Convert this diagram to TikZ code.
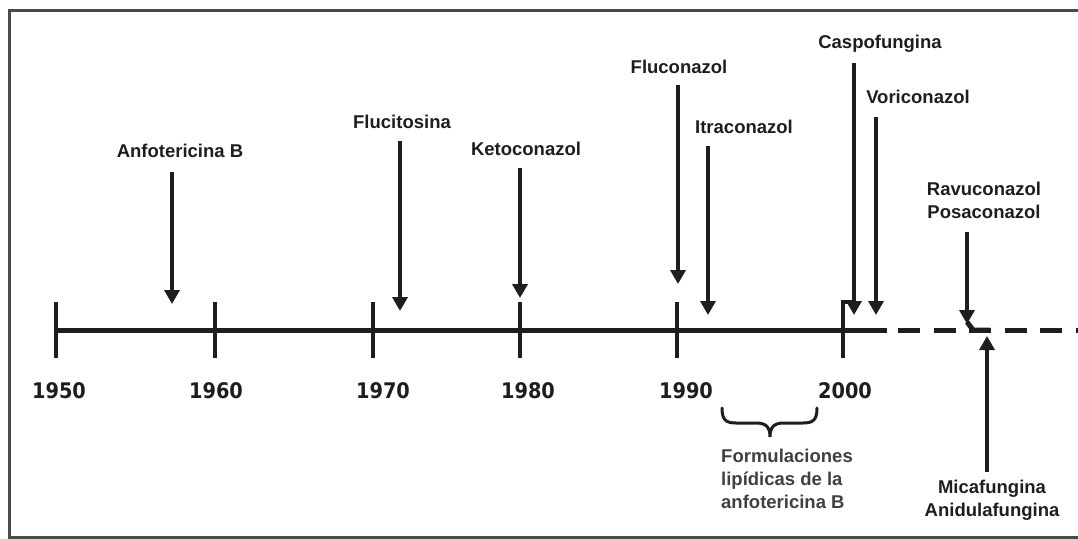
\documentclass[tikz,border=0pt]{standalone}
\usepackage{fontspec}
\setmainfont{Liberation Sans}
\newfontfamily\yearfont[FakeStretch=0.9]{DejaVu Sans}
\usetikzlibrary{arrows.meta}
\definecolor{ink}{HTML}{1E1E1E}
\tikzset{
  drug/.style={font=\fontsize{18.5}{23}\selectfont\bfseries, text=ink, inner sep=0pt, align=center},
  note/.style={font=\fontsize{18.5}{23}\selectfont\bfseries, text=ink!85, inner sep=0pt, align=left},
  year/.style={font=\yearfont\fontsize{21.5}{24}\selectfont\bfseries, text=ink, inner sep=0pt},
  arr/.style={draw=ink, line width=3.8pt, -{Triangle[width=15pt,length=14pt]}},
  axisline/.style={draw=ink, line width=5pt},
  tickmark/.style={draw=ink, line width=4.5pt},
  frame/.style={draw=ink!80, line width=3pt},
}
\begin{document}
\begin{tikzpicture}[x=1pt,y=-1pt]
\useasboundingbox (0,0) rectangle (1078,538);
\fill[white] (0,0) rectangle (1078,538);
\draw[frame] (9,10) rectangle (1090,537);

% axis
\coordinate (ax0) at (56,330);
\coordinate (ax1) at (887,330);
\coordinate (ax2) at (1078,330);
\draw[axisline] (ax0) -- (ax1);
\draw[draw=ink, line width=5pt, dash pattern=on 22pt off 13.5pt] ([xshift=11pt]ax1) -- (ax2);

% ticks
\foreach \n/\x in {a/56,b/215,c/373,d/520,e/677,f/843}{
  \coordinate (top-\n) at (\x,302);
  \coordinate (bot-\n) at (\x,358);
  \draw[tickmark] (top-\n) -- (bot-\n);
}
\coordinate (hook) at (854,302);
\draw[tickmark, line join=miter] (bot-f) -- (top-f) -- (hook);

% year labels
\node[year] (y1950) at (59,391) {1950};
\node[year] (y1960) at (216,391) {1960};
\node[year] (y1970) at (383,391) {1970};
\node[year] (y1980) at (528,391) {1980};
\node[year] (y1990) at (686,391) {1990};
\node[year] (y2000) at (845,391) {2000};

% drugs with arrows
\node[drug] (anf) at (180,151) {Anfotericina B};
\coordinate (anfS) at (172,172); \coordinate (anfE) at (172,304);
\draw[arr] (anfS) -- (anfE);

\node[drug] (flu5) at (402,122) {Flucitosina};
\coordinate (flu5S) at (400,141); \coordinate (flu5E) at (400,311);
\draw[arr] (flu5S) -- (flu5E);

\node[drug] (keto) at (526,149) {Ketoconazol};
\coordinate (ketoS) at (520,168); \coordinate (ketoE) at (520,298);
\draw[arr] (ketoS) -- (ketoE);

\node[drug] (fluc) at (679,67) {Fluconazol};
\coordinate (flucS) at (678,85); \coordinate (flucE) at (678,284);
\draw[arr] (flucS) -- (flucE);

\node[drug] (itra) at (744,127) {Itraconazol};
\coordinate (itraS) at (708,146); \coordinate (itraE) at (708,315);
\draw[arr] (itraS) -- (itraE);

\node[drug] (casp) at (880,44) {Caspofungina};
\coordinate (caspS) at (854,63); \coordinate (caspE) at (854,315);
\draw[arr] (caspS) -- (caspE);

\node[drug] (vori) at (918,97) {Voriconazol};
\coordinate (voriS) at (876,117); \coordinate (voriE) at (876,315);
\draw[arr] (voriS) -- (voriE);

\node[drug] (ravu) at (984,200) {Ravuconazol\\Posaconazol};
\coordinate (ravuS) at (967,232); \coordinate (ravuE) at (967,324);
\draw[arr] (ravuS) -- (ravuE);
\coordinate (ravuD) at (990,330);
\draw[draw=ink, line width=5pt] (967,322) -- (973,330) -- (ravuD);

\node[drug] (mica) at (992,500) {Micafungina\\Anidulafungina};
\coordinate (micaS) at (987,472); \coordinate (micaE) at (987,336);
\draw[arr] (micaS) -- (micaE);

% brace and lipid formulations
\coordinate (brL) at (722,408);
\coordinate (brR) at (817,408);
\coordinate (brT) at (770,437);
\draw[draw=ink, line width=3pt, line cap=round]
  (brL) .. controls (722,420) and (726,423) .. (736,423) -- (756,423)
  .. controls (766,423) and (770,427) .. (brT)
  .. controls (770,427) and (774,423) .. (784,423) -- (803,423)
  .. controls (813,423) and (817,420) .. (brR);
\node[note, anchor=north west] (lip) at (721,449) {Formulaciones\\lipídicas de la\\anfotericina B};
\end{tikzpicture}
\end{document}
